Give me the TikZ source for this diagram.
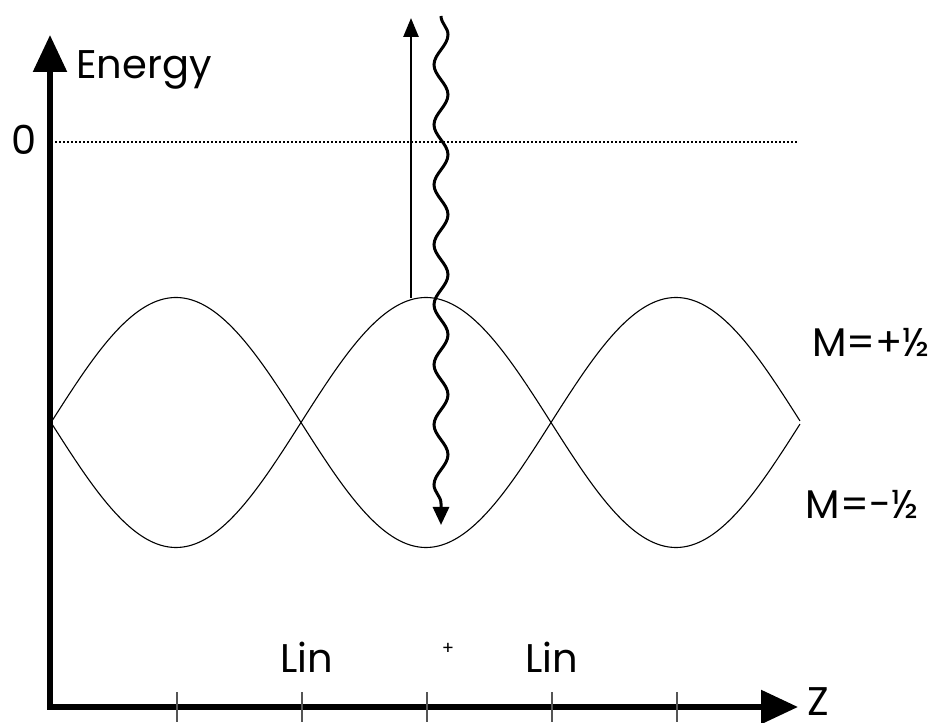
\documentclass[tikz,border=0pt]{standalone}
\usepackage{fontspec}
\setmainfont{Poppins}
\usetikzlibrary{arrows.meta, decorations.pathmorphing}
\definecolor{ink}{HTML}{000000}
\definecolor{tickgray}{HTML}{555555}
\tikzset{
    axis/.style={line width=5.5pt, draw=ink, -{Triangle[length=37pt, width=33pt]}},
    curve/.style={line width=1.1pt, draw=ink},
    tickmark/.style={line width=1.4pt, draw=tickgray},
    zeroline/.style={line width=2.6pt, draw=ink, dash pattern=on 2pt off 2pt},
    lbl/.style={font=\fontsize{40}{44}\selectfont, inner sep=0pt, text=ink},
    smalllbl/.style={font=\fontsize{18}{20}\selectfont, inner sep=0pt, text=ink},
    uparr/.style={line width=2.6pt, draw=ink, -{Triangle[length=19pt, width=15pt]}},
    wavearr/.style={line width=3pt, draw=ink, -{Triangle[length=18pt, width=16pt]},
                    decorate, decoration={snake, segment length=60pt, amplitude=7pt, post length=18pt}},
}

\begin{document}
\begin{tikzpicture}[x=1pt, y=1pt]
  \useasboundingbox (0,0) rectangle (946,723);

  % axes
  \coordinate (orig) at (50,16);
  \coordinate (ytip) at (50,688);
  \coordinate (xtip) at (798,16);
  \draw[axis] (orig) -- (ytip);
  \draw[axis] (47,16) -- (xtip);
  \node[lbl, anchor=base] (energy) at (144,644) {Energy};
  \node[lbl, anchor=base] (zlabel) at (818,7) {Z};

  % ticks
  \foreach \tx in {177,302,427,552,677}
    \draw[tickmark] (\tx,1) -- (\tx,31);

  % zero level
  \node[lbl, anchor=base] (zero) at (24,568) {0};
  \coordinate (zl) at (55,581);
  \coordinate (zr) at (798,581);
  \draw[zeroline] (zl) -- (zr);

  % the two levels
  \draw[curve] plot[domain=0:749, samples=300] ({51+\x}, {300.5+125*sin(0.72*\x)});
  \draw[curve] plot[domain=0:749, samples=300] ({51+\x}, {300.5-125*sin(0.72*\x)});
  \node[lbl, anchor=base] (mplus) at (871,366) {M=+½};
  \node[lbl, anchor=base] (mminus) at (862,204) {M=-½};

  \node[lbl, anchor=base] (lin1) at (307,50) {Lin};
  \node[lbl, anchor=base] (lin2) at (552,50) {Lin};
  \node[smalllbl] (plus) at (448,74) {+};

  % absorption and emission
  \coordinate (absbot) at (411,425);
  \coordinate (abstop) at (411,705);
  \draw[uparr] (absbot) -- (abstop);
  \coordinate (emtop) at (441,707);
  \coordinate (emend) at (441,198);
  \draw[wavearr] (emtop) -- (emend);

\end{tikzpicture}
\end{document}
